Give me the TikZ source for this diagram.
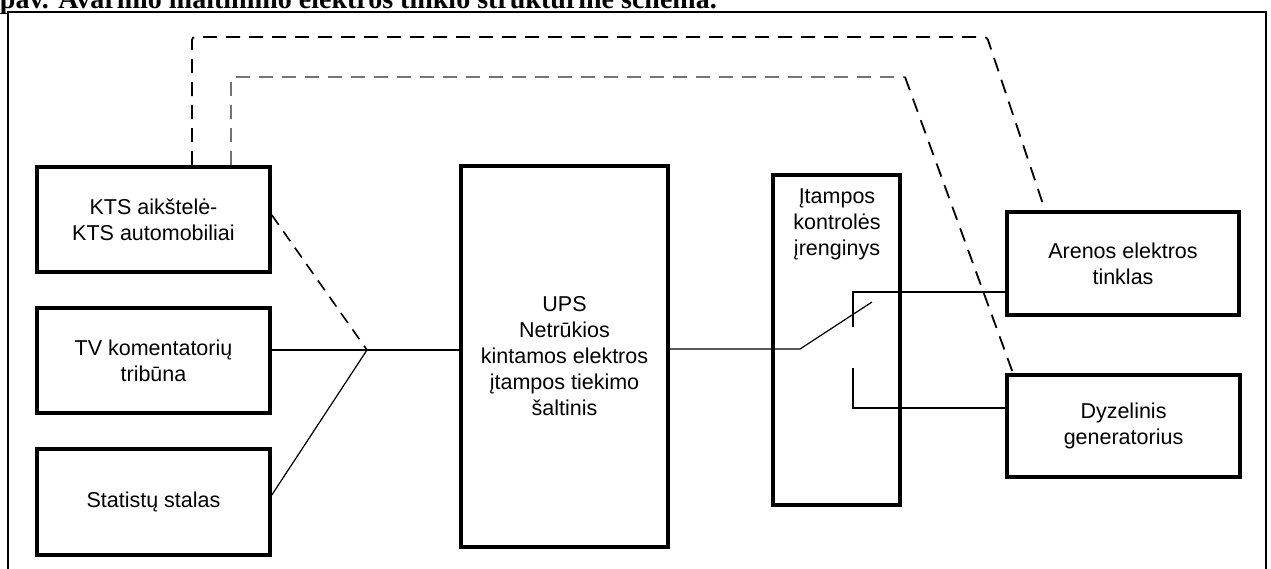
\documentclass[tikz,border=0pt]{standalone}
\usepackage{fontspec}
\setmainfont{Liberation Sans}
\newfontfamily\titleserif{Liberation Serif}
\begin{document}
\begin{tikzpicture}[x=1pt,y=-1pt,
  box/.style={draw=black, line width=3.6pt, inner sep=0pt, align=center,
    font=\fontsize{21.5}{26}\selectfont},
  wire/.style={draw=black, line width=1.2pt},
  dwire/.style={draw=black, line width=1.6pt, dash pattern=on 12pt off 8pt},
  topdash/.style={draw=black, line width=1.8pt, dash pattern=on 14pt off 9pt, rounded corners=3pt},
  topdashgray/.style={topdash, draw=black!55},
  lbl/.style={inner sep=0pt, align=center, font=\fontsize{21.5}{26}\selectfont}
]
\useasboundingbox (0,0) rectangle (1271,568);
% title (cut off at the top)
\node[anchor=base east, inner sep=0pt, font=\titleserif\bfseries\fontsize{28}{30}\selectfont] (title) at (717,8.5) {pav. Avarinio maitinimo elektros tinklo struktūrinė schema.};
% outer frame
\draw[line width=2.4pt] (8,585) -- (8,12) -- (1266,12) -- (1266,585);

% boxes
\node[box, minimum width=233pt, minimum height=105pt] (kts) at (153.5,219.5) {KTS aikštelė-\\KTS automobiliai};
\node[box, minimum width=233pt, minimum height=105pt] (tv) at (153.5,360.5) {TV komentatorių\\tribūna};
\node[box, minimum width=233pt, minimum height=106pt] (stat) at (153.5,502) {Statistų stalas};
\node[box, minimum width=207pt, minimum height=381pt] (ups) at (564.5,356.5) {UPS\\Netrūkios\\kintamos elektros\\įtampos tiekimo\\šaltinis};
\node[box, minimum width=127pt, minimum height=330pt] (itp) at (836.5,340) {};
\node[lbl] (itptxt) at (837,224) {Įtampos\\kontrolės\\įrenginys};
\node[box, minimum width=232pt, minimum height=103pt] (aren) at (1123,263.5) {Arenos elektros\\tinklas};
\node[box, minimum width=233pt, minimum height=102pt] (dyz) at (1123.5,426) {Dyzelinis\\generatorius};

% left junction
\coordinate (J) at (367,350);
\draw[dwire] ([yshift=4.5pt]kts.east) -- (J);
\draw[wire] (tv.east |- J) -- (ups.west |- J);
\draw[wire] ([yshift=7pt]stat.east) -- (J);

% switch
\coordinate (C) at (800,349);
\coordinate (B) at (872,302);
\draw[wire] (ups.east |- C) -- (C) -- (B);
\coordinate (U) at (853,327);
\coordinate (Ut) at (853,292);
\draw[wire] (U) -- (Ut) -- (aren.west |- Ut);
\coordinate (L) at (853,368);
\coordinate (Lb) at (853,408);
\draw[wire] (L) -- (Lb) -- (dyz.west |- Lb);

% top dashed links
\coordinate (o1) at (192,37);
\coordinate (o2) at (987,37);
\draw[topdash] (kts.north -| o1) -- (o1) -- (o2) -- ([xshift=-78pt]aren.north);
\coordinate (i1) at (231,77);
\coordinate (i2) at (905,77);
\draw[topdashgray] (kts.north -| i1) -- (i1) -- (i2);
\draw[topdash] (i2) -- ([xshift=-110.5pt]dyz.north);
\end{tikzpicture}
\end{document}
